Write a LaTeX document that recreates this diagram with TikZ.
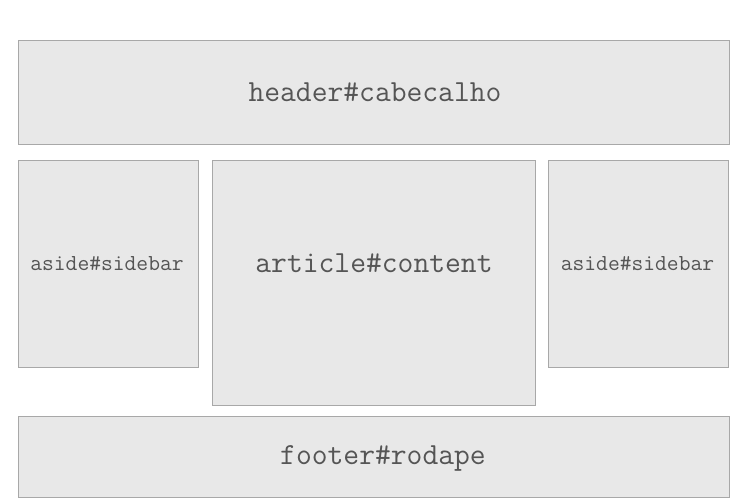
\documentclass[tikz,border=0pt]{standalone}
\usepackage{xcolor}
\usetikzlibrary{positioning}

\definecolor{boxfill}{HTML}{E8E8E8}
\definecolor{boxline}{HTML}{A8A8A8}
\definecolor{labeltext}{HTML}{555555}

\begin{document}
\begin{tikzpicture}[
    x=1pt,y=-1pt,
    region/.style={draw=boxline, line width=1pt, fill=boxfill, rectangle, inner sep=0pt},
    biglabel/.style={text=labeltext, font=\ttfamily\fontsize{30.7}{34}\selectfont, inner sep=0pt, anchor=base},
    smalllabel/.style={text=labeltext, font=\ttfamily\fontsize{22.9}{26}\selectfont, inner sep=0pt, anchor=base}
]
    \useasboundingbox[fill=white] (0,0) rectangle (740,501);

    % ================= REGIONS =================
    \node[region, minimum width=711pt, minimum height=104pt] (header) at (373.5,92) {};
    \node[region, minimum width=180pt, minimum height=207pt] (asideleft) at (108,263.5) {};
    \node[region, minimum width=323pt, minimum height=245pt] (article) at (373.5,282.5) {};
    \node[region, minimum width=180pt, minimum height=207pt] (asideright) at (638,263.5) {};
    \node[region, minimum width=711pt, minimum height=81pt] (footer) at (373.5,456.5) {};

    % ================= LABELS =================
    \node[biglabel] (headertxt) at (375,101) {header\#cabecalho};
    \node[smalllabel] (asidelefttxt) at (107,270.7) {aside\#sidebar};
    \node[biglabel] (articletxt) at (374,272.7) {article\#content};
    \node[smalllabel] (asiderighttxt) at (637.5,270.7) {aside\#sidebar};
    \node[biglabel] (footertxt) at (383,464.3) {footer\#rodape};

\end{tikzpicture}
\end{document}
